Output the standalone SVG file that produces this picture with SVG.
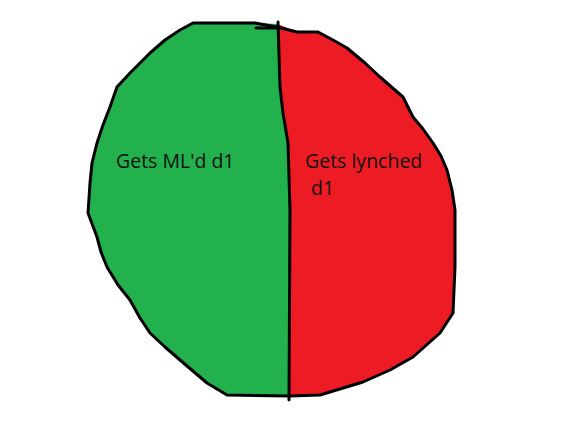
<svg xmlns="http://www.w3.org/2000/svg" width="585" height="441" viewBox="0 0 585 441">
<style>
.ln{fill:none;stroke:#000;stroke-width:3;stroke-linejoin:round;stroke-linecap:round}
.t{font-family:"Open Sans","Liberation Sans",sans-serif;font-size:19.5px;fill:#111}
</style>
<rect width="585" height="441" fill="#fff"/>
<g id="region-lynched">
<path d="M278,24 L297,32 L318,32 L333,40 L347,48 L365,63 L380,77 L403,97 L408,107 L413,117 L423,129 L433,143 L441,156 L447,170 L452,190 L455,210 L455,267 L453,313 L440,333 L413,357 L390,370 L363,382 L320,395 L289,396 L290,210 L288,143 L283,113 L280,87 Z" fill="#ED1C24"/>
<text class="t" x="305" y="168">Gets lynched</text>
<text class="t" x="311" y="195">d1</text>
</g>
<g id="region-ml">
<path d="M278,24 L255,23 L193,23 L180,30 L165,40 L150,53 L130,73 L117,87 L110,107 L103,125 L97,143 L92,163 L90,183 L88,213 L97,237 L101,252 L107,267 L118,285 L130,300 L140,318 L150,333 L165,347 L180,360 L207,383 L227,395 L289,396 L290,210 L288,143 L283,113 L280,87 Z" fill="#22B14C"/>
<text class="t" x="116" y="168">Gets ML'd d1</text>
</g>
<g id="outline">
<path class="ln" d="M193,23 L255,23 L277,27 L297,32 L318,32 L333,40 L347,48 L365,63 L380,77 L403,97 L408,107 L413,117 L423,129 L433,143 L441,156 L447,170 L452,190 L455,210 L455,267 L453,313 L440,333 L413,357 L390,370 L363,382 L320,395 L290,396 L227,395 L207,383 L180,360 L165,347 L150,333 L140,318 L130,300 L118,285 L107,267 L101,252 L97,237 L88,213 L90,183 L92,163 L97,143 L103,125 L110,107 L117,87 L130,73 L150,53 L165,40 L180,30 Z"/>
<path class="ln" d="M278,22 L280,87 L283,113 L288,143 L290,210 L289,400"/>
<path class="ln" d="M256,28 L278,28"/>
</g>
</svg>
